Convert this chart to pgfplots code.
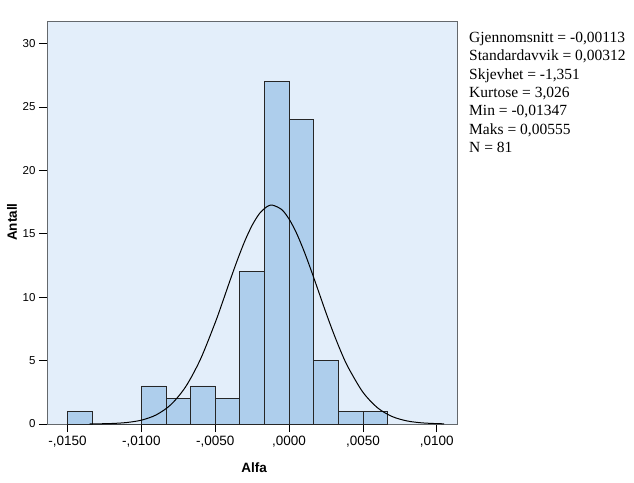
\documentclass[border=0pt]{standalone}
\usepackage{pgfplots}
\pgfplotsset{compat=1.18}
\usepackage{fontspec}
\setmainfont{Liberation Sans}
\newfontfamily\timesfont{Liberation Serif}
\definecolor{bgblue}{RGB}{227,238,250}
\definecolor{barblue}{RGB}{174,206,236}
\definecolor{framegray}{RGB}{100,104,108}
\begin{document}
\begin{tikzpicture}
\path[use as bounding box] (0,0) rectangle (634pt,482pt);
\begin{axis}[
  at={(47pt,58pt)}, anchor=south west,
  scale only axis, width=410pt, height=402pt,
  xmin=-0.01639, xmax=0.01137, ymin=0, ymax=31.7,
  axis background/.style={fill=bgblue},
  axis line style={framegray, line width=1pt},
  xtick={-0.015,-0.01,-0.005,0,0.005,0.01},
  xticklabels={-{,}0150,-{,}0100,-{,}0050,{,}0000,{,}0050,{,}0100},
  ytick={0,5,10,15,20,25,30},
  yticklabels={0,5,10,15,20,25,30},
  scaled x ticks=false,
  tick align=outside, major tick length=8pt,
  tick style={black, line width=0.8pt},
  xtick pos=bottom, ytick pos=left,
  xticklabel style={font=\fontsize{13.5}{15}\selectfont, yshift=-1pt},
  yticklabel style={font=\fontsize{11.5}{13}\selectfont},
  xlabel={\textbf{Alfa}}, ylabel={\textbf{Antall}},
  label style={font=\fontsize{13.5}{15}\selectfont},
  xlabel style={at={(axis description cs:0.505,-0.109)}, anchor=center},
  ylabel style={at={(axis description cs:-0.085,0.502)}, anchor=center},
  clip=false,
]
\addplot[ybar interval, fill=barblue, draw=black!85, line width=0.8pt] coordinates {
  (-0.015,1) (-0.0133333,0) (-0.0116667,0) (-0.01,3) (-0.0083333,2)
  (-0.0066667,3) (-0.005,2) (-0.0033333,12) (-0.0016667,27) (0,24)
  (0.0016667,5) (0.0033333,1) (0.005,1) (0.0066667,0)
};
\addplot[black, line width=1pt, smooth, mark=none] coordinates {
  (-0.0135,0.0067) (-0.013,0.0124) (-0.012,0.040) (-0.011,0.116) (-0.010,0.303)
  (-0.009,0.717) (-0.008,1.529) (-0.007,2.941) (-0.006,5.105) (-0.005,7.998)
  (-0.0045,9.63) (-0.004,11.31) (-0.0035,12.93) (-0.003,14.42) (-0.0025,15.67)
  (-0.002,16.60) (-0.0015,17.14) (-0.00113,17.26) (-0.0005,16.91) (0,16.16)
  (0.0005,15.06) (0.001,13.67) (0.0015,12.10) (0.002,10.44) (0.0025,8.77)
  (0.003,7.19) (0.0035,5.74) (0.004,4.47) (0.005,2.505) (0.006,1.267)
  (0.007,0.579) (0.008,0.239) (0.009,0.089) (0.010,0.030) (0.0105,0.0166)
};
\end{axis}
\node[anchor=north west, align=left, inner sep=0pt,
  font=\timesfont\fontsize{15.5}{18.3}\selectfont] at (469pt,450pt) {%
Gjennomsnitt = -0,00113\\
Standardavvik = 0,00312\\
Skjevhet = -1,351\\
Kurtose = 3,026\\
Min = -0,01347\\
Maks = 0,00555\\
N = 81};
\end{tikzpicture}
\end{document}
